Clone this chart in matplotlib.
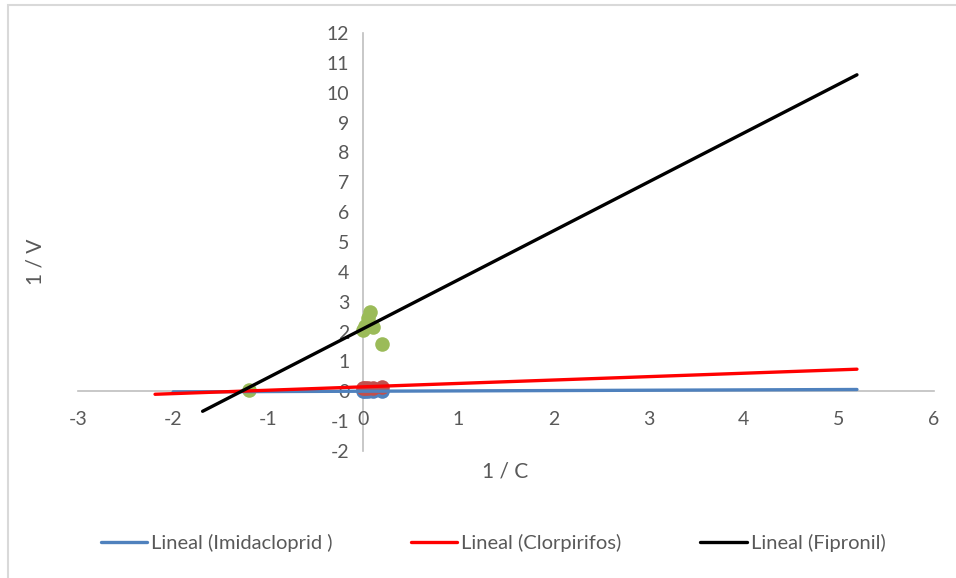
import matplotlib
matplotlib.use("Agg")
import matplotlib.pyplot as plt
from matplotlib.patches import Rectangle

# scatter points
imid_x = [0.0, 0.02, 0.05, 0.1, 0.2]
imid_y = [0.0, 0.0, 0.0, 0.01, 0.02]
clor_x = [0.0, 0.02, 0.05, 0.1, 0.2]
clor_y = [0.1, 0.1, 0.12, 0.12, 0.13]
fip_x = [-1.2, 0.0, 0.02, 0.05, 0.07, 0.1, 0.2]
fip_y = [0.03, 2.05, 2.2, 2.45, 2.65, 2.15, 1.6]

# linear trendlines (end points)
imid_line_x = [-2.0, 5.19]
imid_line_y = [-0.02, 0.06]
clor_line_x = [-2.19, 5.19]
clor_line_y = [-0.1, 0.74]
fip_line_x = [-1.69, 5.19]
fip_line_y = [-0.67, 10.6]

x_ticks = list(range(-3, 7))
y_ticks = list(range(-2, 13))

gray = "#595959"
plt.rcParams["font.family"] = ["Lato", "DejaVu Sans"]
plt.rcParams["axes.unicode_minus"] = False

fig = plt.figure(figsize=(9.56, 5.78), dpi=100)
ax = fig.add_axes([78 / 956, 1 - 451 / 578, 856 / 956, 418 / 578])

ax.scatter(imid_x, imid_y, s=110, color="#4F81BD", zorder=2, linewidths=0)
ax.scatter(clor_x, clor_y, s=110, color="#C0504D", zorder=2, linewidths=0)
ax.scatter(fip_x, fip_y, s=110, color="#9BBB59", zorder=2, linewidths=0)

ax.plot(imid_line_x, imid_line_y, color="#4F81BD", lw=2.4, zorder=3,
        solid_capstyle="round", label="Lineal (Imidacloprid )")
ax.plot(clor_line_x, clor_line_y, color="#FF0000", lw=2.4, zorder=4,
        solid_capstyle="round", label="Lineal (Clorpirifos)")
ax.plot(fip_line_x, fip_line_y, color="#000000", lw=2.4, zorder=5,
        solid_capstyle="round", label="Lineal (Fipronil)")

ax.set_xlim(-3, 6)
ax.set_ylim(-2, 12)
ax.set_xticks(x_ticks)
ax.set_yticks(y_ticks)

for side in ["top", "right"]:
    ax.spines[side].set_visible(False)
ax.spines["left"].set_position(("data", 0))
ax.spines["bottom"].set_position(("data", 0))
for side in ["left", "bottom"]:
    ax.spines[side].set_color("#BFBFBF")
    ax.spines[side].set_linewidth(1.2)
    ax.spines[side].set_zorder(1)
ax.tick_params(axis="both", length=0, labelsize=14, colors=gray)
ax.tick_params(axis="y", pad=10)
ax.tick_params(axis="x", pad=14)
ax.patch.set_alpha(0)

fig.text(35 / 956, 1 - 262 / 578, "1 / V", rotation=90, ha="center", va="center",
         fontsize=15, color=gray)
fig.text(505 / 956, 1 - 471 / 578, "1 / C", ha="center", va="center",
         fontsize=15, color=gray)

leg = fig.legend(loc="center", bbox_to_anchor=(493 / 956, 1 - 543 / 578), ncol=3,
                 frameon=False, fontsize=14.5, handlelength=2.3, handletextpad=0.2,
                 columnspacing=3.9)
for t in leg.get_texts():
    t.set_color(gray)

fig.patches.append(Rectangle((8 / 956, -0.1), 1.2, 1 - 5 / 578 + 0.1,
                             transform=fig.transFigure, fill=False,
                             edgecolor="#D9D9D9", lw=1.5))

fig.savefig("out.png", dpi=100)
